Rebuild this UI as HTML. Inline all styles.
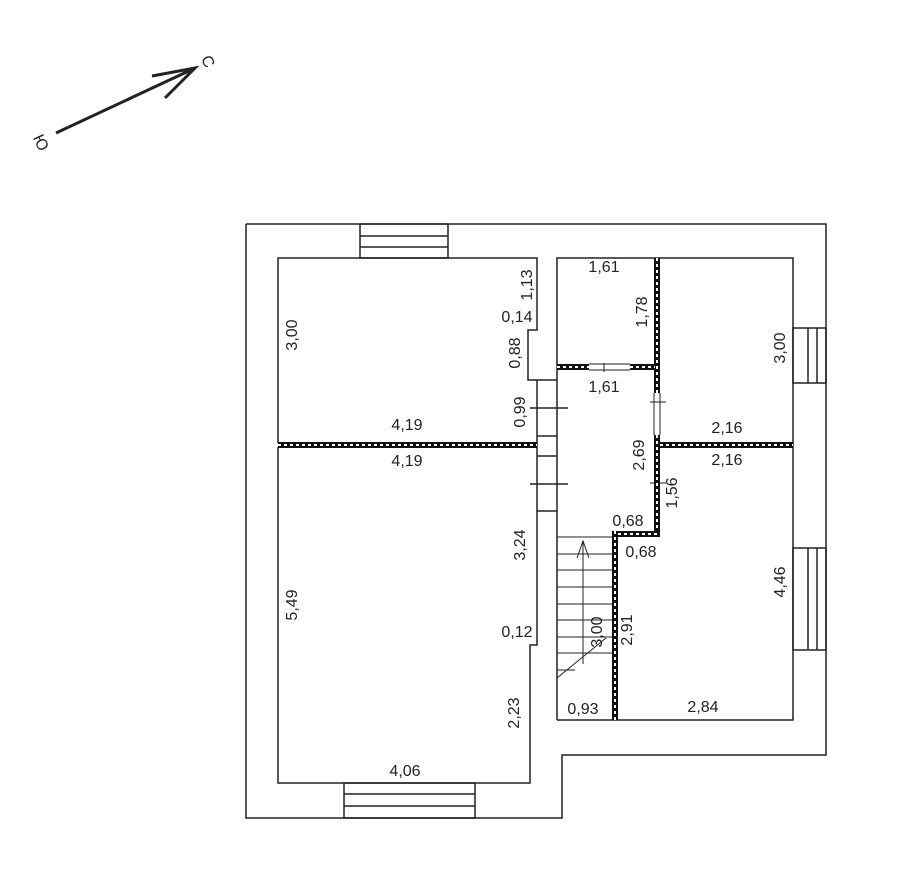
<!DOCTYPE html>
<html><head><meta charset="utf-8"><style>
html,body{margin:0;padding:0;background:#fff}
svg{display:block}
text{font-family:"Liberation Sans",sans-serif;font-size:16px;fill:#222}
</style></head><body>
<svg width="924" height="875" viewBox="0 0 924 875" xmlns="http://www.w3.org/2000/svg">
<g stroke="#222" stroke-width="1.5" fill="none">
<line x1="56" y1="133" x2="193" y2="69" stroke-width="3"/>
<polyline points="152,76 195,68 165,98" stroke-width="3"/>
<polyline points="246,224 826,224 826,755 562,755 562,818 246,818 246,224"/>
<rect x="360" y="224" width="88" height="34"/>
<line x1="360" y1="236" x2="448" y2="236"/><line x1="360" y1="247" x2="448" y2="247"/>
<polyline points="537,380 528,380 528,330 537,330 537,258 278,258 278,443"/>
<polyline points="537,380 557,380"/>
<line x1="537" y1="380" x2="537" y2="511"/>
<line x1="537" y1="436" x2="557" y2="436"/><line x1="537" y1="456" x2="557" y2="456"/><line x1="537" y1="511" x2="557" y2="511"/>
<line x1="530" y1="408" x2="568" y2="408"/><line x1="530" y1="484" x2="568" y2="484"/>
<polyline points="278,447 278,783 530,783 530,645 537,645 537,511"/>
<rect x="344" y="783" width="131" height="35"/>
<line x1="344" y1="794" x2="475" y2="794"/><line x1="344" y1="806" x2="475" y2="806"/>
<polyline points="557,720 557,258 793,258 793,720 557,720"/>
<rect x="793" y="328" width="33" height="55"/>
<line x1="808" y1="328" x2="808" y2="383"/><line x1="817" y1="328" x2="817" y2="383"/>
<rect x="793" y="548" width="33" height="102"/>
<line x1="808" y1="548" x2="808" y2="650"/><line x1="817" y1="548" x2="817" y2="650"/>
<g stroke-width="1">
<line x1="557" y1="554" x2="612" y2="554"/><line x1="557" y1="570" x2="612" y2="570"/>
<line x1="557" y1="587" x2="612" y2="587"/><line x1="557" y1="604" x2="612" y2="604"/>
<line x1="557" y1="620" x2="612" y2="620"/><line x1="557" y1="637" x2="612" y2="637"/>
<line x1="557" y1="653" x2="612" y2="653"/><line x1="557" y1="670" x2="575" y2="670"/>
<line x1="557" y1="678" x2="606" y2="638"/>
<line x1="583" y1="664" x2="583" y2="541"/>
<polyline points="577,558 583,541 589,558"/>
<line x1="557" y1="537" x2="612" y2="537"/>
<line x1="604" y1="363" x2="604" y2="372"/>
<line x1="654" y1="393" x2="654" y2="435"/><line x1="660" y1="393" x2="660" y2="435"/>
<line x1="650" y1="402" x2="666" y2="402"/><line x1="650" y1="483" x2="666" y2="483"/>
</g>
</g>
<g>
<rect x="278" y="442" width="259" height="6" fill="#111"/>
<line x1="278" y1="445" x2="537" y2="445" stroke="#fff" stroke-width="2" stroke-dasharray="3,3"/>
<rect x="660" y="442" width="133" height="6" fill="#111"/>
<line x1="660" y1="445" x2="793" y2="445" stroke="#fff" stroke-width="2" stroke-dasharray="3,3"/>
<rect x="654" y="258" width="6" height="135" fill="#111"/>
<line x1="657" y1="258" x2="657" y2="393" stroke="#fff" stroke-width="2" stroke-dasharray="3,3"/>
<rect x="654" y="435" width="6" height="102" fill="#111"/>
<line x1="657" y1="435" x2="657" y2="537" stroke="#fff" stroke-width="2" stroke-dasharray="3,3"/>
<rect x="612" y="531" width="48" height="6" fill="#111"/>
<line x1="612" y1="534" x2="660" y2="534" stroke="#fff" stroke-width="2" stroke-dasharray="3,3"/>
<rect x="612" y="531" width="6" height="189" fill="#111"/>
<line x1="615" y1="531" x2="615" y2="720" stroke="#fff" stroke-width="2" stroke-dasharray="3,3"/>
<rect x="557" y="364" width="32" height="6" fill="#111"/>
<line x1="557" y1="367" x2="589" y2="367" stroke="#fff" stroke-width="2" stroke-dasharray="3,3"/>
<rect x="630" y="364" width="25" height="6" fill="#111"/>
<line x1="630" y1="367" x2="655" y2="367" stroke="#fff" stroke-width="2" stroke-dasharray="3,3"/>
<line x1="589" y1="364" x2="630" y2="364" stroke="#222"/><line x1="589" y1="370" x2="630" y2="370" stroke="#222"/>
</g>
<text x="207" y="62" text-anchor="middle" dominant-baseline="middle" font-size="18" transform="rotate(65 207 62)">С</text>
<text x="40" y="143" text-anchor="middle" dominant-baseline="middle" font-size="18" transform="rotate(65 40 143)">Ю</text>
<g text-anchor="middle" dominant-baseline="middle">
<text x="604" y="268">1,61</text>
<text x="517" y="318">0,14</text>
<text x="407" y="426">4,19</text>
<text x="407" y="462">4,19</text>
<text x="604" y="388">1,61</text>
<text x="727" y="429">2,16</text>
<text x="727" y="461">2,16</text>
<text x="628" y="522">0,68</text>
<text x="641" y="553">0,68</text>
<text x="517" y="633">0,12</text>
<text x="583" y="710">0,93</text>
<text x="703" y="708">2,84</text>
<text x="405" y="772">4,06</text>
</g>
<g text-anchor="middle" dominant-baseline="middle">
<text x="293" y="335" transform="rotate(-90 293 335)">3,00</text>
<text x="528" y="285" transform="rotate(-90 528 285)">1,13</text>
<text x="516" y="353" transform="rotate(-90 516 353)">0,88</text>
<text x="521" y="412" transform="rotate(-90 521 412)">0,99</text>
<text x="293" y="605" transform="rotate(-90 293 605)">5,49</text>
<text x="521" y="545" transform="rotate(-90 521 545)">3,24</text>
<text x="515" y="713" transform="rotate(-90 515 713)">2,23</text>
<text x="643" y="312" transform="rotate(-90 643 312)">1,78</text>
<text x="640" y="455" transform="rotate(-90 640 455)">2,69</text>
<text x="673" y="493" transform="rotate(-90 673 493)">1,56</text>
<text x="598" y="632" transform="rotate(-90 598 632)">3,00</text>
<text x="628" y="630" transform="rotate(-90 628 630)">2,91</text>
<text x="781" y="348" transform="rotate(-90 781 348)">3,00</text>
<text x="781" y="582" transform="rotate(-90 781 582)">4,46</text>
</g>
</svg>
</body></html>
